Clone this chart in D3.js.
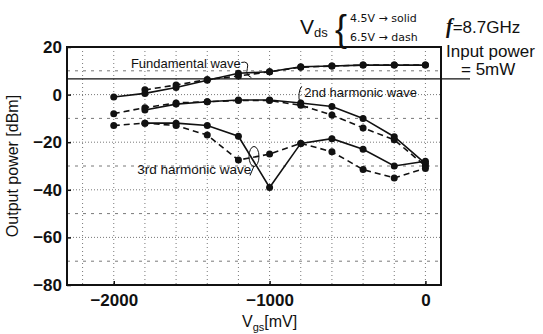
<!DOCTYPE html>
<html>
<head>
<meta charset="utf-8">
<script src="https://cdn.jsdelivr.net/npm/d3@7"></script>
<style>
  body { margin: 0; background: #fff; }
  text { font-family: "Liberation Sans", Arial, sans-serif; fill: #111; }
</style>
</head>
<body>
<div id="chart"></div>
<script>
// gate voltage sweep [mV]
var vgs = [-2000, -1800, -1600, -1400, -1200, -1000, -800, -600, -400, -200, 0];

// output power [dBm], solid = Vds 4.5V, dash = Vds 6.5V
var fundSolid = [-1, 0.5, 3, 6, 9, 9.6, 11.7, 12, 12.4, 12.4, 12.4];
var fundDash = [null, 2, 4, 6.3, 7.8, 9.6, 11.5, 12, 12.4, 12.4, 12.4];
var secondSolid = [null, -6.5, -4, -3, -2.3, -2.3, -3.5, -5, -10, -17.7, -29];
var secondDash = [-8, -5.5, -3.5, -3, -2.5, -2.5, -4.5, -8.6, -14, -19, -30];
var thirdSolid = [null, -12, -12, -13, -17.5, -39, -20.5, -18.5, -23, -30, -28];
var thirdDash = [-13, -12, -13, -17, -27.5, -25, -20.5, -24, -31.5, -35, -31];

var inputPower = 7; // 5 mW

var xTicks = [-2000, -1000, 0];
var yTicks = [-80, -60, -40, -20, 0, 20];

var width = 543, height = 334;

var svg = d3.select("#chart").append("svg")
    .attr("width", width)
    .attr("height", height);

var x = d3.scaleLinear().domain([-2300, 100]).range([67, 441]);
var y = d3.scaleLinear().domain([-80, 20]).range([285, 47]);

// grid lines
svg.append("g")
    .selectAll("line")
    .data(d3.range(-2200, 1, 200))
    .enter().append("line")
    .attr("x1", d => x(d)).attr("x2", d => x(d))
    .attr("y1", y(20)).attr("y2", y(-80))
    .attr("stroke", "#555")
    .attr("stroke-width", 0.8)
    .attr("stroke-dasharray", "1,3");

svg.append("g")
    .selectAll("line")
    .data(d3.range(-70, 20, 10))
    .enter().append("line")
    .attr("x1", x(-2300)).attr("x2", x(100))
    .attr("y1", d => y(d)).attr("y2", d => y(d))
    .attr("stroke", "#555")
    .attr("stroke-width", 0.8)
    .attr("stroke-dasharray", d => d % 20 === 0 ? "1,2" : "3,5");

// axes
svg.append("g")
    .attr("transform", "translate(0," + y(-80) + ")")
    .call(d3.axisBottom(x).tickValues(xTicks).tickSize(-4).tickPadding(9)
        .tickFormat(d => d < 0 ? "\u2212" + Math.abs(d) : d))
    .call(g => g.select(".domain").remove())
    .call(g => g.selectAll(".tick line").attr("stroke", "#111").attr("stroke-width", 1.5))
    .call(g => g.selectAll(".tick text").style("font-size", "17px").style("font-weight", "bold"));

svg.append("g")
    .attr("transform", "translate(" + x(-2300) + ",0)")
    .call(d3.axisLeft(y).tickValues(yTicks).tickSize(-4).tickPadding(5)
        .tickFormat(d => d < 0 ? "\u2212" + Math.abs(d) : d))
    .call(g => g.select(".domain").remove())
    .call(g => g.selectAll(".tick line").attr("stroke", "#111").attr("stroke-width", 1.5))
    .call(g => g.selectAll(".tick text").style("font-size", "17px").style("font-weight", "bold"));

// frame
svg.append("rect")
    .attr("x", x(-2300)).attr("y", y(20))
    .attr("width", x(100) - x(-2300))
    .attr("height", y(-80) - y(20))
    .attr("fill", "none")
    .attr("stroke", "#111")
    .attr("stroke-width", 2);

// input power line
svg.append("line")
    .attr("x1", x(-2300)).attr("x2", 470)
    .attr("y1", y(inputPower) + 1).attr("y2", y(inputPower) + 1)
    .attr("stroke", "#111")
    .attr("stroke-width", 1.3);

// series
var series = [
    { values: fundSolid, dash: null },
    { values: fundDash, dash: "6,4" },
    { values: secondSolid, dash: null },
    { values: secondDash, dash: "6,4" },
    { values: thirdSolid, dash: null },
    { values: thirdDash, dash: "6,4" }
];

var line = d3.line()
    .defined(d => d[1] != null)
    .x(d => x(d[0]))
    .y(d => y(d[1]));

series.forEach(function (s) {
    var pts = vgs.map((v, i) => [v, s.values[i]]);
    svg.append("path")
        .datum(pts)
        .attr("d", line)
        .attr("fill", "none")
        .attr("stroke", "#111")
        .attr("stroke-width", 1.6)
        .attr("stroke-dasharray", s.dash);
    svg.append("g")
        .selectAll("circle")
        .data(pts.filter(d => d[1] != null))
        .enter().append("circle")
        .attr("cx", d => x(d[0]))
        .attr("cy", d => y(d[1]))
        .attr("r", 3.5)
        .attr("fill", "#111");
});

// annotations
svg.append("text")
    .attr("x", x(-1890)).attr("y", y(11.2))
    .style("font-size", "13px")
    .text("Fundamental wave");
svg.append("path")
    .attr("d", "M" + (x(-1900) + 112) + "," + (y(13.5)) +
        " q8,-2 6,6 q-2,7 4,9")
    .attr("fill", "none").attr("stroke", "#111").attr("stroke-width", 1);

svg.append("text")
    .attr("x", x(-790) + 2).attr("y", y(-0.8))
    .style("font-size", "13px")
    .text("2nd harmonic wave");
svg.append("path")
    .attr("d", "M" + (x(-800) + 1) + "," + y(3.5) +
        " a5,10 0 1,0 6,20")
    .attr("fill", "none").attr("stroke", "#111").attr("stroke-width", 1);

svg.append("text")
    .attr("x", x(-1850)).attr("y", y(-33.5))
    .style("font-size", "13.5px")
    .text("3rd harmonic wave");
svg.append("ellipse")
    .attr("cx", x(-1100)).attr("cy", y(-26))
    .attr("rx", 5).attr("ry", 10)
    .attr("fill", "none").attr("stroke", "#111").attr("stroke-width", 1);
svg.append("line")
    .attr("x1", x(-1100) - 4).attr("y1", y(-34))
    .attr("x2", x(-1100)).attr("y2", y(-30))
    .attr("stroke", "#111").attr("stroke-width", 1);

// axis titles
svg.append("text")
    .attr("transform", "translate(18," + (y(-30)) + ") rotate(-90)")
    .attr("text-anchor", "middle")
    .style("font-size", "16px")
    .text("Output power [dBm]");

var xt = svg.append("text")
    .attr("x", x(-1000)).attr("y", 327)
    .attr("text-anchor", "middle")
    .style("font-size", "16px");
xt.append("tspan").text("V");
xt.append("tspan").attr("dy", 4).style("font-size", "11px").text("gs");
xt.append("tspan").attr("dy", -4).text("[mV]");

// legend
var vds = svg.append("text").attr("x", 300).attr("y", 34).style("font-size", "21px");
vds.append("tspan").text("V");
vds.append("tspan").attr("dy", 3).style("font-size", "13px").text("ds");
svg.append("text").attr("x", 335).attr("y", 41)
    .style("font-size", "36px").style("font-weight", "300").text("{");
svg.append("text").attr("x", 350).attr("y", 22).style("font-size", "12px")
    .style("font-family", "'DejaVu Sans', sans-serif").style("font-size", "11px").text("4.5V \u2192 solid");
svg.append("text").attr("x", 350).attr("y", 41).style("font-size", "12px")
    .style("font-family", "'DejaVu Sans', sans-serif").style("font-size", "11px").text("6.5V \u2192 dash");

var ft = svg.append("text").attr("x", 446).attr("y", 33).style("font-size", "17px");
ft.append("tspan").style("font-style", "italic").style("font-weight", "bold")
    .style("font-family", "'Liberation Serif', serif").style("font-size", "20px").text("f");
ft.append("tspan").text("=8.7GHz");
svg.append("text").attr("x", 446).attr("y", 57).style("font-size", "17px").text("Input power");
svg.append("text").attr("x", 461).attr("y", 75).style("font-size", "17px").text("= 5mW");
</script>
</body>
</html>
